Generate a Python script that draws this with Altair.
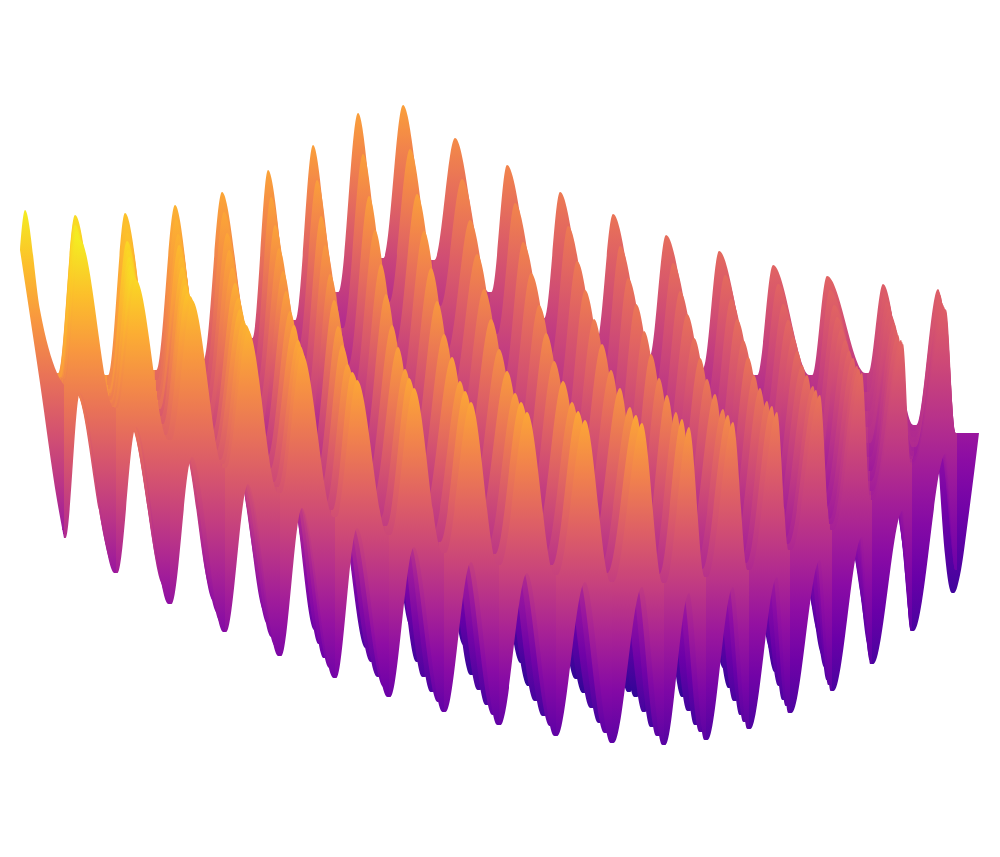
import altair as alt
import pandas as pd

PLASMA = ["#0d0887", "#41049d", "#6a00a8", "#8f0da4", "#b12a90", "#cc4778",
          "#e16462", "#f2844b", "#fca636", "#fcce25", "#f0f921"]

# rows of the surface, from the back silhouette to the front ribbon
px0 = [25,75,125,175,222,268,313,358,403,455,507,560,613,666,719,773,827,883,938]
py0 = [210,215,213,205,192,170,145,113,105,138,165,192,214,235,251,265,276,284,289]
nx0 = [20,57,107,155,202,251,294,337,382,433,490,543,595,648,702,756,811,867,915,957]
ny0 = [250,373,375,370,360,338,320,292,258,260,292,318,343,357,368,375,375,373,425,433]

pxa = [25,75,126,176,224,271,317,363,410,462,515,568,620,673,725,778,830,885,939]
pya = [210,218,223,219,212,197,180,154,149,179,203,226,246,263,275,284,290,293,292]
nxa = [20,57,107,156,204,253,297,342,388,439,496,550,602,654,706,759,813,867,914,957]
nya = [250,374,380,380,376,361,349,328,302,306,334,357,379,390,398,401,398,392,431,433]

px1 = [25,75,127,178,227,275,321,369,417,470,523,577,628,680,731,783,834,887,940]
py1 = [210,222,233,234,233,225,216,196,194,220,242,261,278,291,299,304,305,302,295]
nx1 = [20,58,108,157,206,256,301,347,394,446,503,557,609,660,711,763,815,868,914,957]
ny1 = [250,375,385,391,392,384,379,365,346,352,377,397,415,423,429,427,421,411,437,433]

pxb = [25,75,127,179,229,279,325,375,424,477,531,585,636,687,737,788,837,889,940]
pyb = [210,225,241,245,250,248,245,230,231,254,273,290,304,314,319,320,317,309,298]
nxb = [20,58,108,158,208,258,305,352,400,452,509,564,616,665,716,766,817,868,914,957]
nyb = [250,376,389,400,405,403,403,395,383,390,412,430,445,450,454,449,440,427,442,433]

px2 = [25,76,128,181,232,283,330,381,431,484,539,594,644,694,743,793,841,892,941]
py2 = [210,229,250,257,268,271,274,264,268,289,305,319,331,338,340,337,329,317,301]
nx2 = [20,59,109,159,210,261,309,357,406,459,516,571,623,671,721,770,819,869,914,957]
ny2 = [250,377,393,409,419,423,428,426,420,428,448,463,475,478,479,471,460,443,447,433]
ay2 = [283,393,415,430,445,450,460,460,465,480,490,505,515,520,520,515,505,495,453]
ty2 = [250,490,500,525,530,555,530,552,590,615,640,665,688,655,648,633,618,602,590,565]

pxc = [25,76,129,182,235,286,334,386,437,491,546,602,651,700,748,797,845,894,942]
pyc = [210,231,257,267,283,291,300,294,301,319,333,344,354,358,357,351,340,323,303]
nxc = [20,60,109,160,211,263,312,362,412,465,522,577,629,677,725,773,821,869,914,957]
nyc = [250,377,396,416,431,440,450,452,452,461,479,492,501,502,501,490,477,457,451,433]
ayc = [283,393,420,440,457,467,480,485,492,505,515,527,537,540,536,527,515,500,453]
tyc = [250,500,515,542,560,583,580,600,626,645,663,679,692,676,668,652,636,618,601,568]

px3 = [25,76,130,184,238,290,338,392,444,499,554,611,659,707,754,802,849,896,943]
py3 = [210,234,265,278,298,311,326,325,334,349,361,370,378,379,375,365,351,330,305]
nx3 = [20,61,110,162,213,266,316,367,418,472,529,584,636,683,730,776,824,870,913,957]
ny3 = [250,378,400,424,443,457,472,479,485,495,510,521,528,526,524,510,494,471,456,433]
ay3 = [283,393,425,450,470,485,500,510,520,530,540,550,560,560,552,540,525,505,453]
ty3 = [250,510,530,560,590,612,630,648,662,675,686,693,697,697,688,672,655,635,612,570]

pxd = [25,76,131,185,240,294,342,398,452,507,563,620,667,715,760,807,853,898,944]
pyd = [210,236,270,285,309,325,345,347,357,371,381,388,395,394,388,375,358,335,307]
nxd = [20,61,110,163,215,269,320,372,424,479,536,592,644,689,735,780,826,870,912,957]
nyd = [250,378,403,429,451,469,487,498,508,519,532,542,547,543,540,524,506,481,459,433]
ayd = [283,393,426,452,475,492,510,522,535,544,554,562,570,569,560,546,527,507,453]
tyd = [250,520,541,572,601,624,644,662,677,690,701,708,712,711,701,686,667,645,618,570]

px4 = [25,77,132,187,243,298,347,405,460,515,572,630,676,723,767,813,857,901,945]
py4 = [210,238,275,293,320,340,364,369,381,393,402,407,412,409,401,386,366,340,309]
nx4 = [20,62,112,165,219,273,325,379,432,487,544,600,652,696,741,784,828,871,912,957]
ny4 = [250,379,406,435,460,482,503,518,532,544,555,564,566,561,556,538,519,491,462,433]
ay4 = [283,393,427,455,480,500,520,535,550,558,568,575,580,578,568,552,530,510,453]
ty4 = [250,530,553,585,613,637,658,677,692,705,716,723,727,725,715,700,680,655,625,570]

pxe = [25,78,134,190,246,300,352,409,465,521,578,636,682,728,772,816,859,902,945]
pye = [210,239,277,296,325,346,372,378,391,402,411,415,419,415,406,390,369,342,309]
nxe = [20,63,114,168,222,277,331,385,439,494,551,606,658,701,745,787,830,871,912,957]
nye = [250,379,407,437,464,487,510,526,542,554,565,573,574,569,563,544,524,495,463,433]
aye = [283,393,427,456,482,504,524,541,556,565,575,581,586,582,572,556,533,510,453]
tye = [250,534,563,594,622,646,668,687,702,715,726,733,736,732,722,706,685,660,628,570]

px5 = [25,80,136,192,248,302,357,414,471,527,585,642,689,733,777,820,862,903,946]
py5 = [210,240,280,300,330,353,380,388,402,412,420,423,427,422,412,395,373,344,310]
nx5 = [20,64,116,170,225,280,335,389,444,499,556,612,664,706,749,790,832,872,912,957]
ny5 = [250,380,408,440,468,493,517,535,553,565,575,582,583,577,570,550,530,500,465,433]
ay5 = [283,393,427,457,484,508,528,547,562,573,582,587,593,587,577,560,537,510,453]
ty5 = [250,538,573,604,632,656,678,697,712,725,736,743,745,740,729,713,691,664,631,570]

# colour positions on the plasma scale, at a fin's peak and at its foot
tp0 = [.97,.93,.87,.83,.8,.79,.78,.78,.78,.72,.7,.67,.65,.63,.62,.6,.6,.58,.58]
tp2 = [.97,.96,.92,.85,.8,.78,.76,.76,.76,.72,.7,.68,.66,.64,.63,.61,.6,.58,.58]
tp3 = [.97,.97,.93,.86,.82,.78,.77,.76,.76,.74,.72,.71,.69,.66,.65,.62,.6,.59,.58]
tp4 = [.97,.97,.93,.87,.83,.8,.78,.78,.78,.77,.76,.75,.72,.69,.66,.63,.61,.6,.58]
tp5 = [.97,.97,.92,.86,.83,.8,.8,.8,.8,.8,.8,.8,.76,.72,.68,.65,.62,.6,.58]
tb_back = [.7,.7,.65,.55,.45,.38,.34,.32,.32,.32,.32,.32,.32,.32,.32,.33,.34,.34,.34]
tb2 = [.6,.6,.5,.35,.25,.15,.1,.08,.06,.05,.05,.05,.05,.05,.06,.08,.1,.12,.14]
tb3 = [.55,.5,.42,.32,.25,.18,.12,.1,.08,.07,.07,.07,.07,.07,.07,.08,.1,.1,.12]
tb4 = [.45,.4,.35,.28,.25,.2,.16,.13,.12,.11,.11,.11,.1,.1,.1,.1,.1,.11,.12]
tb5 = [.33,.33,.3,.27,.25,.22,.2,.18,.18,.17,.17,.16,.15,.14,.13,.13,.12,.12,.12]

BACK = [
    (px0, py0, nx0, ny0, nya, tp0),
    (pxa, pya, nxa, nya, ny1, tp0),
    (px1, py1, nx1, ny1, nyb, tp0),
    (pxb, pyb, nxb, nyb, ny2, tp2),
]
FRONT = [
    (px2, py2, nx2, ny2, ay2, ty2, tp2, tb2),
    (pxc, pyc, nxc, nyc, ayc, tyc, tp3, tb3),
    (px3, py3, nx3, ny3, ay3, ty3, tp3, tb3),
    (pxd, pyd, nxd, nyd, ayd, tyd, tp4, tb4),
    (px4, py4, nx4, ny4, ay4, ty4, tp4, tb4),
    (pxe, pye, nxe, nye, aye, tye, tp5, tb5),
    (px5, py5, nx5, ny5, ay5, ty5, tp5, tb5),
]

left_x = [20, 25, 40, 57, 64]
left_top = [250, 210, 310, 373, 385]
left_bot = [250, 283, 383, 500, 538]
right_x = [938, 945, 952, 954, 961, 968, 979]
right_top = [433, 433, 433, 433, 433, 433, 433]
right_bot = [455, 555, 593, 593, 570, 520, 433]

HIDE = 45   # how far a hidden row's foot reaches below the next row's valleys
FLAT = 1.5  # a short flat run at each valley, so crests and feet stay round


def hex_rgb(c):
    return [int(c[i:i + 2], 16) for i in (1, 3, 5)]


def plasma(t):
    t = max(0.0, min(1.0, t)) * 10
    i = min(int(t), 9)
    a, b = hex_rgb(PLASMA[i]), hex_rgb(PLASMA[i + 1])
    f = t - i
    return "#%02x%02x%02x" % tuple(round(a[k] + (b[k] - a[k]) * f) for k in range(3))


def grad(t_top, t_bot):
    stops = [alt.GradientStop(color=plasma(t_top + (t_bot - t_top) * o / 6), offset=o / 6)
             for o in range(7)]
    return alt.Gradient(gradient="linear", stops=stops, x1=0, x2=0, y1=0, y2=1)


X = alt.Scale(domain=[8, 992], nice=False, zero=False)
Y = alt.Scale(domain=[849, 8], nice=False, zero=False)


def piece(xs, tops, bots, t_top, t_bot):
    df = pd.DataFrame({"xv": xs, "top": tops, "bot": bots})
    return alt.Chart(df).mark_area(
        interpolate="monotone", color=grad(t_top, t_bot)
    ).encode(
        x=alt.X("xv:Q", scale=X, axis=None),
        y=alt.Y("top:Q", scale=Y, axis=None),
        y2=alt.Y2("bot"),
    )


def fin(xl, xp, xr, tl, tp, tr, bl, bp, br, t_top, t_bot):
    return piece([xl, xl + FLAT, xp, xr - FLAT, xr],
                 [tl, tl, tp, tr, tr], [bl, bl, bp, br, br], t_top, t_bot)


layers = []
for px, py, nx, ny, next_ny, tp in BACK:
    for c in range(1, 19):
        foot_l, foot_r = next_ny[c] + HIDE, next_ny[c + 1] + HIDE
        foot_p = min(ay5[c], max(foot_l, foot_r))
        layers.append(fin(nx[c], px[c], nx[c + 1], ny[c], py[c], ny[c + 1],
                          foot_l, foot_p, foot_r, tp[c], tb_back[c]))
layers.append(piece(right_x, right_top, right_bot, .33, .1))
for px, py, nx, ny, ay, ty, tp, tb in FRONT:
    for c in range(1, 19):
        layers.append(fin(nx[c], px[c], nx[c + 1], ny[c], py[c], ny[c + 1],
                          ty[c], ay[c], ty[c + 1], tp[c], tb[c]))
layers.append(piece(left_x, left_top, left_bot, .97, .33))

chart = alt.layer(*layers).properties(
    width=984, height=841, padding=0,
    autosize=alt.AutoSizeParams(type="none"),
).configure_view(stroke=None)

chart.save("out.html", embed_options={"renderer": "svg", "actions": False})
